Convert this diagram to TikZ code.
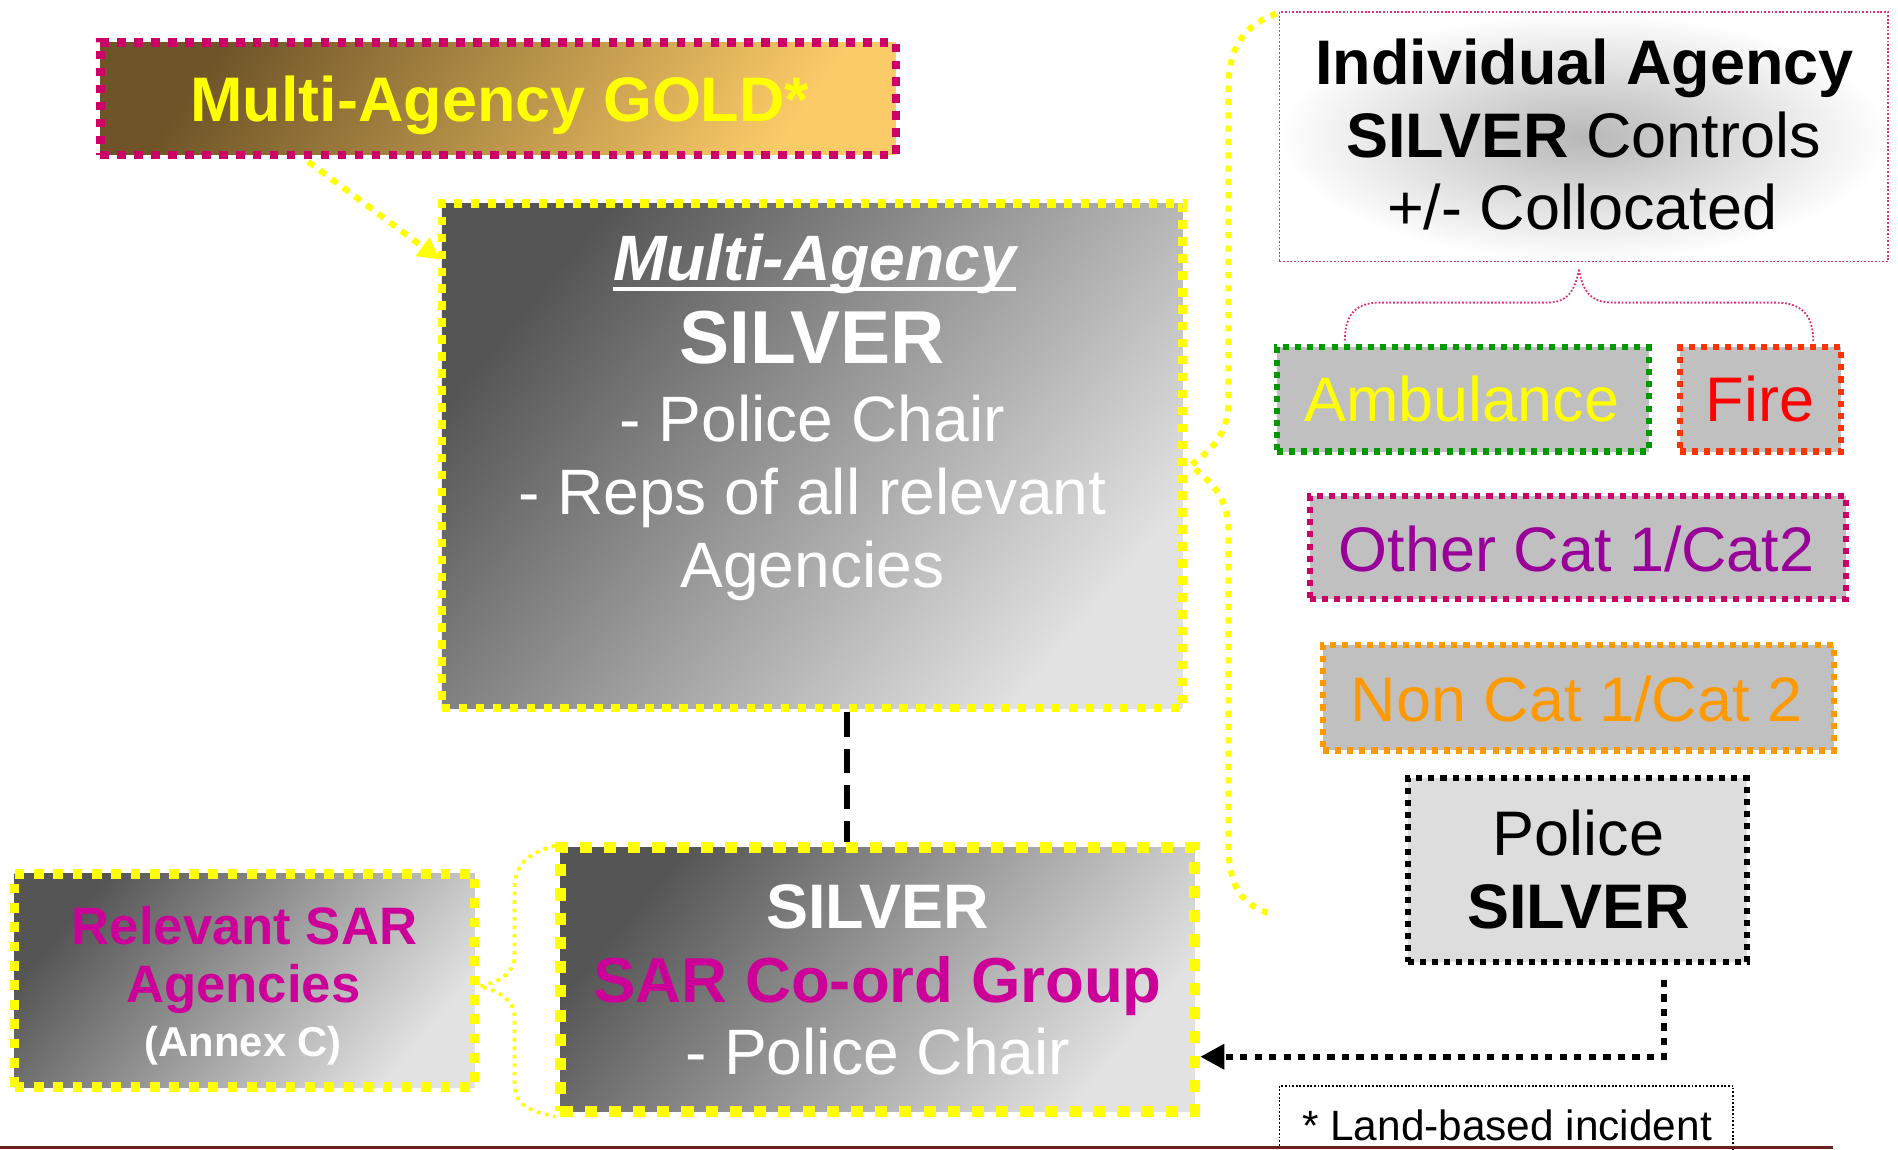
\documentclass[tikz,border=0pt]{standalone}
\usepackage{fontspec}
\setmainfont{Liberation Sans}
\usetikzlibrary{calc,arrows.meta}
\definecolor{golddark}{HTML}{6E5428}
\definecolor{goldlight}{HTML}{FBCB68}
\definecolor{sdark}{HTML}{555555}
\definecolor{slight}{HTML}{E2E2E2}
\definecolor{borderpink}{HTML}{CC0066}
\definecolor{thinpink}{HTML}{E0307A}
\definecolor{ygold}{HTML}{FFFF00}
\definecolor{ambgreen}{HTML}{009900}
\definecolor{firered}{HTML}{FF3300}
\definecolor{purpletxt}{HTML}{990099}
\definecolor{orangetxt}{HTML}{FF9900}
\definecolor{sarmag}{HTML}{CC0099}
\definecolor{boxgray}{HTML}{C0C0C0}
\definecolor{policegray}{HTML}{DDDDDD}
\definecolor{barcolor}{HTML}{6B2020}
\newcommand\setfs[1]{\fontsize{#1}{#1}\selectfont}
\tikzset{
  txt/.style={inner sep=0pt, anchor=base},
  silverbox/.style={top color=sdark, bottom color=slight, shading angle=50,
    draw=ygold, line width=7pt, dash pattern=on 7pt off 7pt},
  smallbox/.style={fill=boxgray, line width=5pt, dash pattern=on 5pt off 5pt,
    minimum height=86pt, inner sep=0pt},
  thinbrace/.style={draw=thinpink, line width=1.5pt, dash pattern=on 1.5pt off 1.5pt},
}
\begin{document}
\begin{tikzpicture}[x=1pt,y=-1pt]
\useasboundingbox (0,0) rectangle (1568,950);

% GOLD
\node[top color=golddark, bottom color=goldlight, shading angle=55,
      draw=borderpink, line width=7pt, dash pattern=on 7pt off 7pt,
      minimum width=657pt, minimum height=93pt, inner sep=0pt] (gold) at (411.5,81.5) {};
\node[txt, text=ygold] (goldt) at (413,100) {\setfs{52}\bfseries Multi-Agency GOLD*};

% Multi-Agency SILVER
\node[silverbox, minimum width=612pt, minimum height=417pt, inner sep=0pt] (ma) at (671,376.5) {};
\node[txt, text=white] (ma1) at (673,232) {\setfs{53}\bfseries\itshape Multi-Agency};
\draw[white, line width=3.5pt] ($(ma1.base west)+(0,7)$) -- ($(ma1.base east)+(0,7)$);
\node[txt, text=white] (ma2) at (671,300) {\setfs{62}\bfseries SILVER};
\node[txt, text=white] (ma3) at (671,365) {\setfs{53}- Police Chair};
\node[txt, text=white] (ma4) at (671,425) {\setfs{53}- Reps of all relevant};
\node[txt, text=white] (ma5) at (671,485) {\setfs{53}Agencies};

% Individual agency
\node[inner color=black!28, outer color=white, draw=thinpink, line width=1.5pt,
      dash pattern=on 1.5pt off 1.5pt, minimum width=503pt, minimum height=206pt,
      inner sep=0pt] (indiv) at (1308.5,113) {};
\node[txt] (in1) at (1309,70) {\setfs{52}\bfseries Individual Agency};
\node[txt] (in2) at (1308,130) {\setfs{52}\textbf{SILVER} Controls};
\node[txt] (in3) at (1307,190) {\setfs{52}+/- Collocated};

% brace below individual
\coordinate (btip) at ($(indiv.south)+(-4,6)$);
\draw[thinbrace] (btip) .. controls (1300,245) and (1292,250) .. (1277,250) -- (1140,250)
   .. controls (1118,250) and (1111,262) .. (1111,282);
\draw[thinbrace] (btip) .. controls (1308,245) and (1318,250) .. (1333,250) -- (1467,250)
   .. controls (1490,250) and (1498,262) .. (1498,282);

% small boxes
\node[smallbox, draw=ambgreen, minimum width=307pt] (amb) at (1208.5,330) {};
\node[txt, text=ygold] (ambt) at (1207.5,348) {\setfs{52}Ambulance};
\node[smallbox, draw=firered, minimum width=133pt] (fire) at (1454.5,330) {};
\node[txt, text=red] (firet) at (1454,348) {\setfs{52}Fire};
\node[smallbox, draw=borderpink, minimum width=443pt, minimum height=85pt] (other) at (1303.5,452.5) {};
\node[txt, text=purpletxt] (othert) at (1302.5,472) {\setfs{52}Other Cat 1/Cat2};
\node[smallbox, draw=orangetxt, minimum width=422pt, minimum height=87pt] (noncat) at (1304,576.5) {};
\node[txt, text=orangetxt] (noncatt) at (1302.5,596) {\setfs{52}Non Cat 1/Cat 2};

% Police SILVER
\node[fill=policegray, draw=black, line width=5pt, dash pattern=on 5pt off 5pt,
      minimum width=280pt, minimum height=152pt, inner sep=0pt] (police) at (1303,719) {};
\node[txt] (pol1) at (1304,707) {\setfs{52}Police};
\node[txt] (pol2) at (1304,767) {\setfs{52}\bfseries SILVER};

% SAR co-ord group
\node[silverbox, line width=9pt, dash pattern=on 10pt off 10pt,
      minimum width=524pt, minimum height=218pt, inner sep=0pt] (sar) at (725,809) {};
\node[txt, text=white] (sar1) at (725,767) {\setfs{52}\bfseries SILVER};
\node[txt, text=sarmag] (sar2) at (725,828) {\setfs{52.5}\bfseries SAR Co-ord Group};
\node[txt, text=white] (sar3) at (725,888) {\setfs{53}- Police Chair};

% Relevant SAR agencies
\node[silverbox, line width=8pt, dash pattern=on 8pt off 8pt,
      minimum width=380pt, minimum height=176pt, inner sep=0pt] (rel) at (202,810) {};
\node[txt, text=sarmag] (rel1) at (202,780) {\setfs{43.5}\bfseries Relevant SAR};
\node[txt, text=sarmag] (rel2) at (201,828) {\setfs{43.5}\bfseries Agencies};
\node[txt, text=white] (rel3) at (201,873) {\setfs{34.5}\bfseries (Annex C)};

% footnote
\node[draw=black, line width=1.5pt, dash pattern=on 1.5pt off 1.5pt,
      minimum width=375pt, minimum height=63pt, inner sep=0pt] (note) at (1244.5,928.5) {};
\node[txt] (notet) at (1245,942) {\setfs{35}* Land-based incident};

% big yellow brace
\coordinate (ytip) at ($(ma.east)+(3,8)$);
\draw[ygold, line width=5pt, dash pattern=on 5pt off 6pt]
  ($(indiv.north west)+(-2,2)$) .. controls (1025,22) and (1015,42) .. (1015,72) -- (1015,330)
  .. controls (1015,360) and (1000,372) .. (ytip)
  .. controls (1000,398) and (1015,410) .. (1015,440) -- (1015,700)
  .. controls (1015,730) and (1025,748) .. (1050,755);

% small yellow brace
\coordinate (stip) at ($(rel.east)+(0,5)$);
\draw[ygold, line width=3pt, dash pattern=on 3pt off 4pt]
  ($(sar.north west)+(0,3)$) .. controls (435,705) and (425,715) .. (425,735) -- (425,790)
  .. controls (425,805) and (410,812) .. (stip)
  .. controls (410,818) and (425,825) .. (425,840) -- (425,895)
  .. controls (425,915) and (440,918) .. ($(sar.south west)+(0,0)$);

% gold -> multi-agency silver
\draw[ygold, line width=5pt, dash pattern=on 6pt off 6pt,
      -{Triangle[length=18pt, width=18pt]}]
  ($(gold.south west)+(175,2)$) -- ($(ma.north west)+(2,50)$);

% black dashed link
\coordinate (vtop) at ($(ma.south)+(29,0)$);
\draw[black, line width=5pt, dash pattern=on 20pt off 10pt] (vtop) -- (vtop |- sar.north);

% police -> SAR
\draw[black, line width=5pt, dash pattern=on 6pt off 6pt,
      -{Triangle[length=20pt, width=20pt]}]
  ($(police.south)+(72,12)$) |- ($(sar.east)+(0,64)$);

% bottom line
\coordinate (bl) at (0,948);
\coordinate (br) at (1514,948);
\draw[barcolor, line width=3pt] (bl) -- (br);
\end{tikzpicture}
\end{document}
